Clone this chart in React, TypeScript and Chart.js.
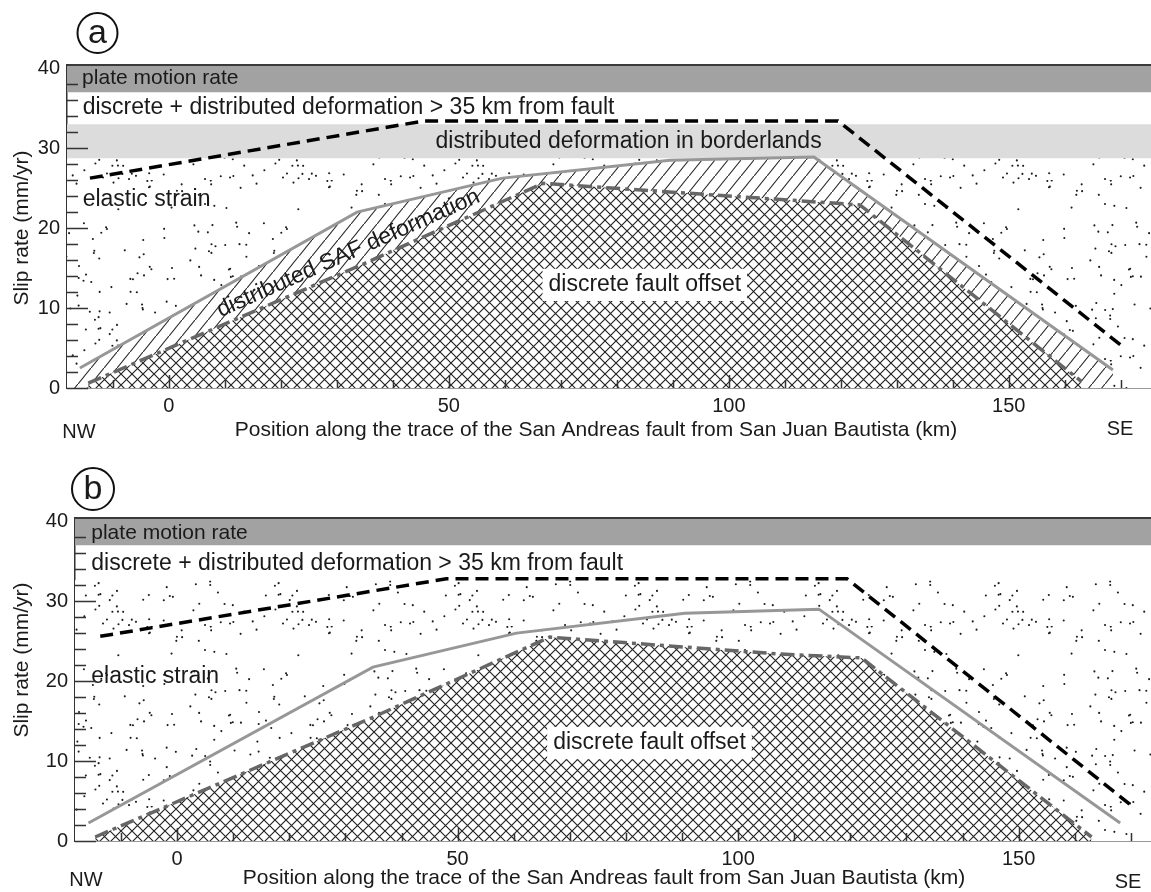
import React, { useEffect, useRef } from "react";
import { Chart, registerables } from "chart.js";
Chart.register(...registerables);

// ---------------- data ----------------
const xTickLabels = [0, 50, 100, 150];
const xMinorTicks = [-10, 0, 10, 20, 30, 40, 50, 60, 70, 80, 90, 100, 110, 120, 130, 140, 150, 160, 170];
const yTickLabels = [0, 10, 20, 30, 40];
const yMinorTicks = [0, 2, 4, 6, 8, 10, 12, 14, 16, 18, 20, 22, 24, 26, 28, 30, 32, 34, 36, 38];

// panel (a)
const aDashedX = [-14.1, 45.5, 119.5, 170.5];
const aDashedY = [26.25, 33.4, 33.4, 5.1];
const aGrayX = [-15.9, 33.6, 59.6, 89.5, 115.2, 168.6];
const aGrayY = [2.5, 22.0, 26.25, 28.5, 28.9, 2.25];
const aDashDotX = [-14.4, 35, 66.8, 123.4, 163];
const aDashDotY = [0.6, 15.6, 25.6, 22.9, 0.8];
const aPlateBand = [37.0, 40.4];
const aBorderlandBand = [28.7, 33.0];
const aStippleTop = 28.7;

// panel (b)
const bDashedX = [-13.7, 48, 119.4, 170];
const bDashedY = [25.6, 32.8, 32.8, 4.5];
const bGrayX = [-15.8, 34.9, 60.5, 90.5, 114.4, 168.1];
const bGrayY = [2.25, 21.75, 26.0, 28.5, 29.0, 2.25];
const bDashDotX = [-14.6, 35, 66.4, 107, 122, 163];
const bDashDotY = [0.5, 15.5, 25.5, 23.4, 22.9, 0.5];
const bPlateBand = [37.0, 40.4];
const bStippleTop = 32.6;

const FONT = '"Liberation Sans", Arial, Helvetica, sans-serif';
const TXT = "#1a1a1a";

// ---------------- textures ----------------
function seeded(a: number) {
  return function () {
    a |= 0; a = (a + 0x6d2b79f5) | 0;
    let t = Math.imul(a ^ (a >>> 15), 1 | a);
    t = (t + Math.imul(t ^ (t >>> 7), 61 | t)) ^ t;
    return ((t ^ (t >>> 14)) >>> 0) / 4294967296;
  };
}
function stipplePattern(ctx: CanvasRenderingContext2D) {
  const n = 180;
  const c = document.createElement("canvas");
  c.width = n; c.height = n;
  const g = c.getContext("2d")!;
  g.fillStyle = "#ffffff";
  g.fillRect(0, 0, n, n);
  const r = seeded(7);
  g.fillStyle = "#1c1c1c";
  for (let i = 0; i < 140; i++) {
    const x = r() * n, y = r() * n;
    g.beginPath();
    g.arc(x, y, 1.05, 0, Math.PI * 2);
    g.fill();
  }
  return ctx.createPattern(c, "repeat")!;
}
function crossPattern(ctx: CanvasRenderingContext2D) {
  const s = 11;
  const c = document.createElement("canvas");
  c.width = s; c.height = s;
  const g = c.getContext("2d")!;
  g.fillStyle = "#ffffff";
  g.fillRect(0, 0, s, s);
  g.strokeStyle = "#222222";
  g.lineWidth = 1.15;
  g.beginPath();
  g.moveTo(-1, -1); g.lineTo(s + 1, s + 1);
  g.moveTo(-1, s + 1); g.lineTo(s + 1, -1);
  g.stroke();
  return ctx.createPattern(c, "repeat")!;
}
function hatchPattern(ctx: CanvasRenderingContext2D) {
  const w = 13, h = 16;
  const c = document.createElement("canvas");
  c.width = w; c.height = h;
  const g = c.getContext("2d")!;
  g.fillStyle = "#ffffff";
  g.fillRect(0, 0, w, h);
  g.strokeStyle = "#222222";
  g.lineWidth = 1.1;
  g.beginPath();
  g.moveTo(-w * 0.2, h * 1.2); g.lineTo(w * 1.2, -h * 0.2);
  g.stroke();
  return ctx.createPattern(c, "repeat")!;
}

const pts = (xs: number[], ys: number[]) => xs.map((x, i) => ({ x, y: ys[i] }));

type Label = { text: string; x: number; y: number; size: number; align?: CanvasTextAlign; rot?: number; box?: boolean };
type PanelCfg = {
  key: string;
  letter: string;
  xMin: number; xMax: number; yMax: number;
  padTop: number; yWidth: number; xHeight: number;
  dashed: { x: number; y: number }[];
  gray: { x: number; y: number }[];
  dashDot: { x: number; y: number }[];
  plate: number[];
  borderland: number[] | null;
  stippleTop: number;
  hatched: boolean;
  labels: Label[];
  yTitle: { x: number; y: number };
  xTitle: { x: number; y: number };
  nw: { x: number; y: number };
  se: { x: number; y: number };
  circle: { x: number; y: number; r: number };
};

function makeChart(canvas: HTMLCanvasElement, p: PanelCfg) {
  const ctx = canvas.getContext("2d")!;
  const stip = stipplePattern(ctx);
  const cross = crossPattern(ctx);
  const hatch = hatchPattern(ctx);
  const clear = "rgba(0,0,0,0)";
  const base = { pointRadius: 0, pointHoverRadius: 0, tension: 0 };

  const datasets: any[] = [];
  datasets.push({ ...base, data: [{ x: p.xMin, y: p.plate[1] }, { x: p.xMax, y: p.plate[1] }], fill: { value: p.plate[0] }, backgroundColor: "#a2a2a2", borderColor: clear, borderWidth: 0, order: 20 });
  if (p.borderland) {
    datasets.push({ ...base, data: [{ x: p.xMin, y: p.borderland[1] }, { x: p.xMax, y: p.borderland[1] }], fill: { value: p.borderland[0] }, backgroundColor: "#dcdcdc", borderColor: clear, borderWidth: 0, order: 19 });
  }
  datasets.push({ ...base, data: [{ x: p.xMin, y: p.stippleTop }, { x: p.xMax, y: p.stippleTop }], fill: "origin", backgroundColor: stip, borderColor: clear, borderWidth: 0, order: 18 });
  if (p.hatched) {
    const g = p.gray;
    const poly = [{ x: p.xMin, y: 0 }, ...g, { x: g[g.length - 1].x, y: 0 }];
    datasets.push({ ...base, data: poly, fill: "origin", backgroundColor: hatch, borderColor: clear, borderWidth: 0, order: 17 });
  }
  datasets.push({ ...base, data: p.dashDot, fill: "origin", backgroundColor: cross, borderColor: clear, borderWidth: 0, order: 16 });
  datasets.push({ ...base, data: p.gray, fill: false, borderColor: "#979797", borderWidth: 3, order: 3 });
  datasets.push({ ...base, data: p.dashDot, fill: false, borderColor: "#666666", borderWidth: 3.5, borderDash: [14, 5, 4, 5], order: 2 });
  datasets.push({ ...base, data: p.dashed, fill: false, borderColor: "#000000", borderWidth: 3.5, borderDash: [13, 7], order: 1 });

  const overlay = {
    id: "overlay" + p.key,
    afterDatasetsDraw(chart: any) {
      const c = chart.ctx;
      const xs = chart.scales.x, ys = chart.scales.y;
      c.save();
      for (const l of p.labels) {
        const px = xs.getPixelForValue(l.x), py = ys.getPixelForValue(l.y);
        c.save();
        c.translate(px, py);
        if (l.rot) c.rotate((l.rot * Math.PI) / 180);
        c.font = `${l.size}px ${FONT}`;
        c.textAlign = l.align || "left";
        c.textBaseline = l.rot ? "alphabetic" : "middle";
        if (l.box) {
          const w = c.measureText(l.text).width;
          c.fillStyle = "#ffffff";
          c.fillRect(-w / 2 - 6, -l.size * 0.7, w + 12, l.size * 1.4);
        }
        c.fillStyle = TXT;
        c.fillText(l.text, 0, 0);
        c.restore();
      }
      c.restore();
    },
    afterDraw(chart: any) {
      const c = chart.ctx;
      const a = chart.chartArea;
      const xs = chart.scales.x, ys = chart.scales.y;
      c.save();
      // frame top
      c.strokeStyle = "#3a3a3a";
      c.lineWidth = 2;
      c.beginPath();
      c.moveTo(a.left, a.top); c.lineTo(a.right, a.top);
      c.stroke();
      // inward ticks
      c.lineWidth = 1.5;
      c.strokeStyle = "#333333";
      c.beginPath();
      for (const v of yMinorTicks) {
        const py = Math.round(ys.getPixelForValue(v)) + 0.5;
        const len = v % 10 === 0 ? 21 : 11;
        c.moveTo(a.left, py); c.lineTo(a.left + len, py);
      }
      for (const v of xMinorTicks) {
        const px = Math.round(xs.getPixelForValue(v)) + 0.5;
        const len = v % 50 === 0 ? 13 : 8;
        c.moveTo(px, a.bottom); c.lineTo(px, a.bottom - len);
      }
      c.stroke();
      // titles
      c.fillStyle = TXT;
      c.font = `21px ${FONT}`;
      c.textAlign = "center";
      c.textBaseline = "middle";
      c.save();
      c.translate(p.yTitle.x, p.yTitle.y);
      c.rotate(-Math.PI / 2);
      c.fillText("Slip rate (mm/yr)", 0, 0);
      c.restore();
      c.fillText("Position along the trace of the San Andreas fault from San Juan Bautista (km)", p.xTitle.x, p.xTitle.y);
      c.font = `20px ${FONT}`;
      c.fillText("NW", p.nw.x, p.nw.y);
      c.fillText("SE", p.se.x, p.se.y);
      // panel letter
      c.lineWidth = 2;
      c.strokeStyle = "#111111";
      c.beginPath();
      c.arc(p.circle.x, p.circle.y, p.circle.r, 0, Math.PI * 2);
      c.stroke();
      c.font = `34px ${FONT}`;
      c.fillText(p.letter, p.circle.x, p.circle.y + 1);
      c.restore();
    },
  };

  return new Chart(canvas, {
    type: "line",
    data: { datasets },
    options: {
      responsive: false,
      animation: false,
      devicePixelRatio: 1,
      events: [],
      layout: { padding: { top: p.padTop, left: 0, right: 0, bottom: 0 } },
      plugins: { legend: { display: false }, tooltip: { enabled: false }, title: { display: false } },
      scales: {
        x: {
          type: "linear",
          min: p.xMin,
          max: p.xMax,
          z: 1,
          grid: { display: false, drawTicks: false },
          border: { display: true, color: "#333333", width: 1.5 },
          ticks: { font: { family: FONT, size: 20 }, color: TXT, padding: 6, maxRotation: 0, autoSkip: false, callback: (v: any) => String(v) },
          afterBuildTicks: (s: any) => { s.ticks = xTickLabels.map((v) => ({ value: v })); },
          afterFit: (s: any) => { s.height = p.xHeight; },
        },
        y: {
          type: "linear",
          min: 0,
          max: p.yMax,
          z: 1,
          grid: { display: false, drawTicks: false },
          border: { display: true, color: "#333333", width: 1.5 },
          ticks: { font: { family: FONT, size: 20 }, color: TXT, padding: 7, autoSkip: false, callback: (v: any) => String(v) },
          afterBuildTicks: (s: any) => { s.ticks = yTickLabels.map((v) => ({ value: v })); },
          afterFit: (s: any) => { s.width = p.yWidth; },
        },
      },
    } as any,
    plugins: [overlay],
  });
}

const panelA: PanelCfg = {
  key: "a",
  letter: "a",
  xMin: -18.2, xMax: 175.4, yMax: 40.4,
  padTop: 65, yWidth: 67, xHeight: 58,
  dashed: pts(aDashedX, aDashedY),
  gray: pts(aGrayX, aGrayY),
  dashDot: pts(aDashDotX, aDashDotY),
  plate: aPlateBand,
  borderland: aBorderlandBand,
  stippleTop: aStippleTop,
  hatched: true,
  labels: [
    { text: "plate motion rate", x: -15.5, y: 38.75, size: 21 },
    { text: "discrete + distributed deformation > 35 km from fault", x: -15.4, y: 35.1, size: 23 },
    { text: "distributed deformation in borderlands", x: 82.1, y: 30.75, size: 23, align: "center" },
    { text: "elastic strain", x: -15.4, y: 23.5, size: 23 },
    { text: "distributed SAF deformation", x: 32.5, y: 16.1, size: 23, align: "center", rot: -24 },
    { text: "discrete fault offset", x: 85, y: 12.9, size: 23, align: "center", box: true },
  ],
  yTitle: { x: 22, y: 228 },
  xTitle: { x: 596, y: 430 },
  nw: { x: 79, y: 432 },
  se: { x: 1120, y: 429 },
  circle: { x: 97.5, y: 33, r: 20 },
};

const panelB: PanelCfg = {
  key: "b",
  letter: "b",
  xMin: -18.2, xMax: 173.6, yMax: 40.4,
  padTop: 72, yWidth: 75, xHeight: 51,
  dashed: pts(bDashedX, bDashedY),
  gray: pts(bGrayX, bGrayY),
  dashDot: pts(bDashDotX, bDashDotY),
  plate: bPlateBand,
  borderland: null,
  stippleTop: bStippleTop,
  hatched: false,
  labels: [
    { text: "plate motion rate", x: -15.3, y: 38.5, size: 21 },
    { text: "discrete + distributed deformation > 35 km from fault", x: -15.3, y: 34.75, size: 23 },
    { text: "elastic strain", x: -15.3, y: 20.5, size: 23 },
    { text: "discrete fault offset", x: 84.2, y: 12.25, size: 23, align: "center", box: true },
  ],
  yTitle: { x: 22, y: 660 - 446 },
  xTitle: { x: 604, y: 878 - 446 },
  nw: { x: 86, y: 880 - 446 },
  se: { x: 1128, y: 882 - 446 },
  circle: { x: 93, y: 489 - 446, r: 21 },
};

export default function App() {
  const refA = useRef<HTMLCanvasElement>(null);
  const refB = useRef<HTMLCanvasElement>(null);
  useEffect(() => {
    const ca = makeChart(refA.current!, panelA);
    const cb = makeChart(refB.current!, panelB);
    return () => { ca.destroy(); cb.destroy(); };
  }, []);
  return (
    <div style={{ position: "fixed", left: 0, top: 0, width: 1151, height: 892, overflow: "hidden", background: "#ffffff" }}>
      <canvas ref={refA} width={1151} height={446} style={{ position: "absolute", left: 0, top: 0, width: 1151, height: 446 }} />
      <canvas ref={refB} width={1151} height={446} style={{ position: "absolute", left: 0, top: 446, width: 1151, height: 446 }} />
    </div>
  );
}
